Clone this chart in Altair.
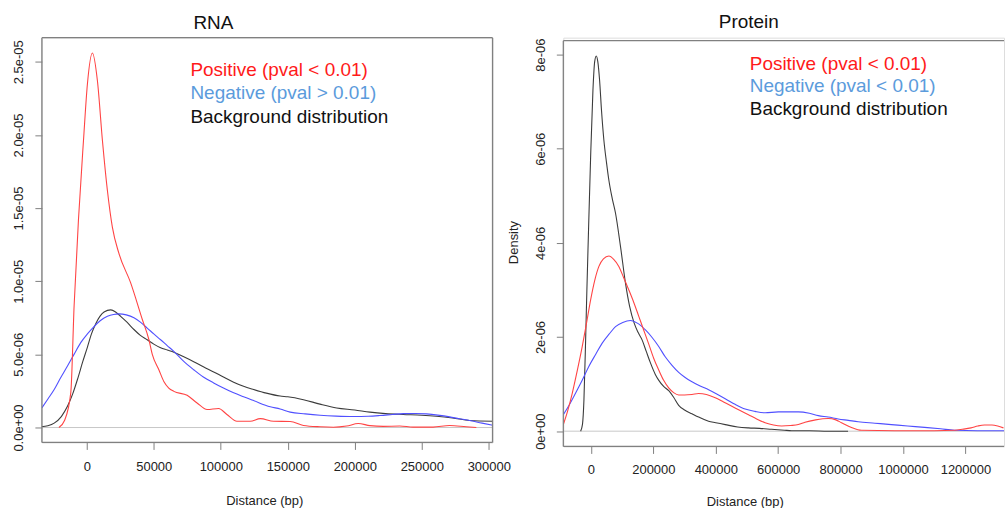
import altair as alt
import pandas as pd

# ---------------- RNA panel (distance in bp, density in units of 1e-6) ----------------
rna_pos_x = [-20800, -16500, -11900, -9450, -6200, -2460, 500, 4200, 7950, 11700, 15400,
             19100, 24000, 32700, 41400, 46400, 48900, 53800, 57500, 61200, 65000, 74900,
             82300, 89800, 98400, 104600, 112100, 122000, 129500, 139400, 151800, 161700,
             174100, 184000, 193900, 202600, 211300, 221200, 233600, 243500, 258400,
             270800, 283200, 290700]
rna_pos_y = [0.0, 0.5, 2.4, 8.3, 14.2, 19.6, 23.5, 25.6, 23.7, 19.6, 16.2,
             13.7, 11.9, 9.9, 7.4, 6.0, 5.0, 3.95, 3.15, 2.7, 2.47, 2.2,
             1.68, 1.23, 1.3, 0.89, 0.43, 0.43, 0.61, 0.43, 0.41, 0.14,
             0.05, 0.02, 0.1, 0.27, 0.13, 0.08, 0.1, 0.03, 0.03,
             0.14, 0.05, 0.0]

rna_neg_x = [-33500, -29000, -24300, -19500, -14400, -9500, -4500, 500, 5400, 10000, 15400,
             20000, 24000, 29500, 35200, 40000, 45100, 50000, 55100, 60000, 65000, 72000,
             79800, 87000, 94700, 102000, 109600, 117000, 124500, 136900, 144300, 151800,
             163000, 174100, 186000, 198900, 210000, 218700, 228000, 236100, 245000, 253500,
             262000, 270800, 278000, 285700, 295000, 303000]
rna_neg_y = [1.34, 1.95, 2.6, 3.4, 4.2, 5.0, 5.8, 6.4, 6.9, 7.3, 7.6,
             7.73, 7.77, 7.7, 7.5, 7.2, 6.8, 6.4, 6.0, 5.6, 5.2, 4.55,
             3.95, 3.45, 3.05, 2.7, 2.37, 2.1, 1.84, 1.42, 1.27, 1.05,
             0.93, 0.84, 0.78, 0.75, 0.77, 0.82, 0.89, 0.95, 0.96, 0.93,
             0.85, 0.73, 0.6, 0.48, 0.3, 0.16]

rna_bg_x = [-34000, -29000, -24300, -19000, -14400, -10500, -6900, -3000, 500, 3500, 6700,
            9800, 12900, 17900, 21500, 25300, 30000, 35200, 40000, 45100, 50000, 55100,
            60000, 65000, 72000, 79800, 87000, 94700, 102000, 109600, 117000, 124500,
            134000, 144300, 150000, 161700, 174000, 186500, 200000, 211300, 223000,
            236100, 250000, 260900, 273000, 285700, 303000]
rna_bg_y = [0.05, 0.12, 0.3, 0.75, 1.45, 2.3, 3.3, 4.5, 5.5, 6.4, 7.1,
            7.6, 7.9, 8.04, 7.9, 7.6, 7.2, 6.7, 6.3, 6.0, 5.7, 5.45,
            5.3, 5.15, 4.85, 4.5, 4.15, 3.8, 3.45, 3.1, 2.82, 2.6,
            2.35, 2.15, 2.1, 1.9, 1.6, 1.34, 1.2, 1.05, 0.95,
            0.89, 0.84, 0.77, 0.65, 0.48, 0.43]

# ---------------- Protein panel ----------------
prot_pos_x = [-88500, -75000, -59700, -44000, -27800, -14000, -1000, 12000, 25500, 40000,
              57500, 73000, 89400, 105000, 121400, 137000, 153300, 169000, 185300, 201000,
              217200, 233000, 249200, 265000, 281200, 300000, 323800, 345000, 370000, 398400,
              425000, 451600, 478000, 504800, 531000, 558100, 585000, 611300, 640000, 664600,
              686000, 720000, 760400, 785000, 803000, 835000, 866800, 973300, 1100000,
              1165000, 1190000, 1218000, 1240000, 1261000, 1285000, 1303500, 1322000]
prot_pos_y = [0.14, 0.42, 0.81, 1.28, 1.8, 2.3, 2.79, 3.2, 3.5, 3.66,
              3.72, 3.65, 3.5, 3.26, 3.0, 2.74, 2.44, 2.15, 1.85, 1.55,
              1.3, 1.08, 0.92, 0.82, 0.77, 0.77, 0.78, 0.80, 0.78, 0.71,
              0.62, 0.53, 0.44, 0.35, 0.26, 0.18, 0.13, 0.11, 0.12, 0.14,
              0.19, 0.24, 0.27, 0.24, 0.18, 0.08, 0.02, 0.01, 0.01,
              0.02, 0.04, 0.07, 0.11, 0.13, 0.13, 0.11, 0.07]

prot_neg_x = [-88500, -70000, -49000, -28000, -6400, 15000, 36100, 58000, 78800, 102000,
              126800, 150000, 174700, 196000, 217200, 238000, 259800, 281200, 302000, 323800,
              350000, 377000, 403000, 430300, 462000, 494200, 526000, 558100, 600700, 622000,
              664600, 700000, 728500, 760000, 792400, 825000, 856300, 910000, 962800, 1015000,
              1069300, 1120000, 1165000, 1239000, 1325000]
prot_neg_y = [0.35, 0.55, 0.81, 1.08, 1.38, 1.63, 1.87, 2.06, 2.22, 2.31,
              2.35, 2.29, 2.15, 1.99, 1.8, 1.58, 1.40, 1.25, 1.14, 1.05,
              0.96, 0.88, 0.79, 0.69, 0.57, 0.47, 0.42, 0.39, 0.41, 0.41,
              0.41, 0.38, 0.33, 0.3, 0.26, 0.23, 0.2, 0.17, 0.14, 0.11,
              0.08, 0.05, 0.02, 0.01, 0.01]

prot_bg_x = [-33000, -27000, -22400, -17000, -13000, -8600, -1000, 6400, 12000, 17000,
             22000, 27800, 34000, 41500, 50000, 57500, 68000, 78800, 94800, 110800,
             124000, 138300, 151000, 163900, 177000, 190700, 206700, 217500, 233000, 249400,
             265000, 281200, 300000, 323800, 345000, 377000, 400000, 430300, 470000, 504800,
             540000, 579300, 620000, 643200, 700000, 760000, 824000]
prot_bg_y = [0.0, 0.15, 0.67, 1.94, 3.0, 4.06, 5.83, 7.24, 7.85, 7.97,
             7.85, 7.45, 6.8, 6.18, 5.7, 5.33, 4.95, 4.63, 3.92, 3.14,
             2.65, 2.30, 2.1, 1.94, 1.7, 1.45, 1.2, 1.08, 0.95, 0.86,
             0.72, 0.55, 0.45, 0.37, 0.3, 0.21, 0.18, 0.14, 0.09, 0.07,
             0.06, 0.04, 0.02, 0.01, 0.01, 0.0, 0.0]

# ---------------- axes ----------------
rna_x_ticks = [0, 50000, 100000, 150000, 200000, 250000, 300000]
rna_y_ticks = [0.0, 5e-06, 1e-05, 1.5e-05, 2e-05, 2.5e-05]
rna_y_labels = ["0.0e+00", "5.0e-06", "1.0e-05", "1.5e-05", "2.0e-05", "2.5e-05"]

prot_x_ticks = [0, 200000, 400000, 600000, 800000, 1000000, 1200000]
prot_y_ticks = [0.0, 2e-06, 4e-06, 6e-06, 8e-06]
prot_y_labels = ["0e+00", "2e-06", "4e-06", "6e-06", "8e-06"]

series_names = ["Positive", "Negative", "Background"]
line_colors = ["#ff4444", "#5050ff", "#3c3c3c"]

rna_legend = ["Positive (pval < 0.01)", "Negative (pval > 0.01)", "Background distribution"]
prot_legend = ["Positive (pval < 0.01)", "Negative (pval < 0.01)", "Background distribution"]
legend_colors = ["#ff1a1a", "#5b9bdc", "#111111"]

FONT = "Liberation Sans"
BOX = "#808080"
LABEL = "#222222"


def frame(pairs):
    rows = []
    for name, xs, ys in pairs:
        for x, y in zip(xs, ys):
            rows.append({"series": name, "distance": x, "density": y * 1e-6})
    return pd.DataFrame(rows)


def label_expr(values, labels):
    expr = "''"
    for v, lab in reversed(list(zip(values, labels))):
        expr = f"abs(datum.value - ({v!r})) < 1e-9 ? '{lab}' : {expr}"
    return expr


def panel(df, xdom, ydom, xticks, yticks, ylabels, w, h, box_top, right_border,
          title, title_pos, legend, legend_x, legend_ys, xtitle_x, x_label_pad,
          x_title_pad, ytitle=None):
    one = pd.DataFrame({"k": [0]})

    x_axis = alt.Axis(values=xticks, format="d", domain=False, grid=False,
                      tickSize=7, tickColor=BOX, labelPadding=x_label_pad,
                      labelFontSize=13, labelColor=LABEL, labelFlush=False,
                      labelOverlap=False, titleFontSize=13, titleFontWeight="normal",
                      titleColor=LABEL, titlePadding=x_title_pad, titleX=xtitle_x)
    y_kwargs = dict(values=yticks, labelExpr=label_expr(yticks, ylabels), domain=False,
                    grid=False, tickSize=7, tickColor=BOX, labelPadding=9,
                    labelFontSize=13, labelColor=LABEL, labelAngle=270,
                    labelFlush=False, labelOverlap=False)
    if ytitle:
        y_kwargs.update(titleFontSize=13, titleFontWeight="normal", titleColor=LABEL,
                        titlePadding=14)
    y_axis = alt.Axis(**y_kwargs)

    lines = alt.Chart(df).mark_line(strokeWidth=1.1, clip=True, interpolate="monotone").encode(
        x=alt.X("distance:Q", title="Distance (bp)", axis=x_axis,
                scale=alt.Scale(domain=xdom, nice=False, zero=False)),
        y=alt.Y("density:Q", title=ytitle, axis=y_axis,
                scale=alt.Scale(domain=ydom, nice=False, zero=False)),
        color=alt.Color("series:N", legend=None,
                        scale=alt.Scale(domain=series_names, range=line_colors)),
        detail="series:N",
    )

    zero = alt.Chart(pd.DataFrame({"density": [0.0]})).mark_rule(
        color="#c8c8c8", strokeWidth=1).encode(y="density:Q")

    box = [
        alt.Chart(one).mark_rule(color=BOX, strokeWidth=1.3).encode(
            x=alt.value(0), x2=alt.value(w), y=alt.value(box_top)),
        alt.Chart(one).mark_rule(color=BOX, strokeWidth=1.3).encode(
            x=alt.value(0), x2=alt.value(w), y=alt.value(h)),
        alt.Chart(one).mark_rule(color=BOX, strokeWidth=1.3).encode(
            x=alt.value(0), y=alt.value(box_top), y2=alt.value(h)),
    ]
    if right_border:
        box.append(alt.Chart(one).mark_rule(color=BOX, strokeWidth=1.3).encode(
            x=alt.value(w), y=alt.value(box_top), y2=alt.value(h)))

    head = alt.Chart(pd.DataFrame({"t": [title]})).mark_text(
        font=FONT, fontSize=19, color="#111111", align="center", baseline="middle"
    ).encode(text="t:N", x=alt.value(title_pos[0]), y=alt.value(title_pos[1]))

    keys = []
    for text, color, ly in zip(legend, legend_colors, legend_ys):
        keys.append(alt.Chart(pd.DataFrame({"t": [text]})).mark_text(
            font=FONT, fontSize=19, color=color, align="left", baseline="middle"
        ).encode(text="t:N", x=alt.value(legend_x), y=alt.value(ly)))

    return alt.layer(zero, lines, *box, head, *keys).properties(width=w, height=h)


rna_df = frame([("Background", rna_bg_x, rna_bg_y),
                ("Negative", rna_neg_x, rna_neg_y),
                ("Positive", rna_pos_x, rna_pos_y)])
prot_df = frame([("Background", prot_bg_x, prot_bg_y),
                 ("Negative", prot_neg_x, prot_neg_y),
                 ("Positive", prot_pos_x, prot_pos_y)])

rna = panel(rna_df, [-33500, 302800], [-1.02e-6, 26.65e-6], rna_x_ticks, rna_y_ticks,
            rna_y_labels, 452, 406, 0, True, "RNA", (172, -15), rna_legend, 149,
            [32, 56, 80], 223, 11, 21)
prot = panel(prot_df, [-88500, 1323700], [-0.324e-6, 8.36e-6], prot_x_ticks, prot_y_ticks,
             prot_y_labels, 442, 410, 3, False, "Protein", (186, -16), prot_legend, 187,
             [26, 49, 72], 182, 10, 19, ytitle="Density")

chart = alt.hconcat(rna, prot, spacing=71, bounds="flush").properties(
    padding={"left": 12, "top": 11, "right": 0, "bottom": 0},
    background="white",
).configure_view(strokeWidth=0).configure(font=FONT)

chart.save("out.html", embed_options={"renderer": "svg", "actions": False})
